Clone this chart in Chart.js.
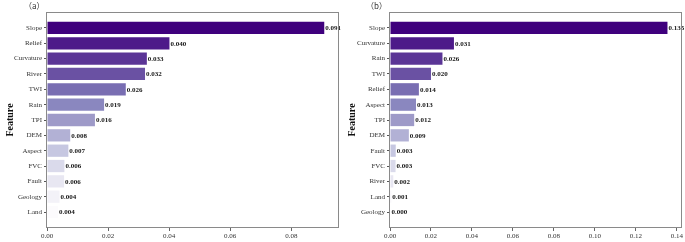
<!DOCTYPE html>
<html>
<head>
<meta charset="utf-8">
<script src="https://cdn.jsdelivr.net/npm/chart.js@4.4.1/dist/chart.umd.min.js"></script>
<style>
  html, body { margin: 0; padding: 0; background: #fff; }
  #wrap { position: relative; width: 685px; height: 242px; overflow: hidden; }
  .panel { position: absolute; top: 0; height: 242px; }
  .tag { position: absolute; top: 0; font: 8px "Noto Sans CJK SC", serif; color: #333; line-height: 12px; }
</style>
</head>
<body>
<div id="wrap">
  <div class="panel" style="left:0;width:342px;"><canvas id="chart-a" width="342" height="242"></canvas></div>
  <div class="panel" style="left:342px;width:343px;"><canvas id="chart-b" width="343" height="242"></canvas></div>
  <div class="tag" style="left:24px;">（a）</div>
  <div class="tag" style="left:366px;">（b）</div>
</div>
<script>
// ---- data ----
var featuresA = ['Slope', 'Relief', 'Curvature', 'River', 'TWI', 'Rain', 'TPI', 'DEM', 'Aspect', 'FVC', 'Fault', 'Geology', 'Land'];
var importanceA = [0.0908, 0.0401, 0.0327, 0.0321, 0.0258, 0.0187, 0.0157, 0.0076, 0.0070, 0.0057, 0.0056, 0.0041, 0.0036];
var xTicksA = [0, 0.02, 0.04, 0.06, 0.08];

var featuresB = ['Slope', 'Curvature', 'Rain', 'TWI', 'Relief', 'Aspect', 'TPI', 'DEM', 'Fault', 'FVC', 'River', 'Land', 'Geology'];
var importanceB = [0.1354, 0.0312, 0.0256, 0.0200, 0.0141, 0.0127, 0.0118, 0.0092, 0.0028, 0.0027, 0.0016, 0.0006, 0.0002];
var xTicksB = [0, 0.02, 0.04, 0.06, 0.08, 0.10, 0.12, 0.14];

// Purples, darkest first (one per rank)
var palette = ['#3f007d', '#4d1a89', '#5b3596', '#6a51a3', '#796eb2', '#8a87bf', '#9e9ac8',
               '#b2b1d5', '#c6c7e1', '#dadaeb', '#e8e7f2', '#f3f2f8', '#fcfbfd'];

var SERIF = '"Liberation Serif", "Times New Roman", serif';

Chart.defaults.animation = false;

(function () {
  'use strict';

  // bold value text at the end of each bar
  var valueLabels = {
    id: 'valueLabels',
    afterDatasetsDraw: function (chart) {
      var ctx = chart.ctx;
      var meta = chart.getDatasetMeta(0);
      var pts = chart.data.datasets[0].data;
      ctx.save();
      ctx.font = 'bold 7px ' + SERIF;
      ctx.fillStyle = '#151515';
      ctx.textAlign = 'left';
      ctx.textBaseline = 'middle';
      meta.data.forEach(function (bar, i) {
        ctx.fillText(pts[i].x.toFixed(3), bar.x + 1, bar.y + 0.5);
      });
      ctx.restore();
    }
  };

  // box round the plot area
  var frame = {
    id: 'frame',
    afterDraw: function (chart) {
      var a = chart.chartArea;
      var ctx = chart.ctx;
      ctx.save();
      ctx.strokeStyle = '#8a8a8a';
      ctx.lineWidth = 1;
      ctx.strokeRect(Math.round(a.left) - 0.5, Math.round(a.top) + 0.5,
                     Math.round(a.right - a.left) + 1, Math.round(a.bottom - a.top) - 1);
      ctx.restore();
    }
  };

  function build(canvasId, features, values, xTicks, xMax, yAxisWidth) {
    var points = values.map(function (v, i) { return { x: v, y: i }; });

    return new Chart(document.getElementById(canvasId), {
      type: 'bar',
      data: {
        datasets: [{
          data: points,
          backgroundColor: palette.slice(0, values.length),
          borderWidth: 0,
          barPercentage: 0.8,
          categoryPercentage: 1
        }]
      },
      options: {
        indexAxis: 'y',
        responsive: false,
        layout: { padding: { top: 12, right: 4, left: 0, bottom: 0 } },
        plugins: { legend: { display: false }, tooltip: { enabled: false } },
        scales: {
          x: {
            type: 'linear',
            min: 0,
            max: xMax,
            border: { display: false },
            grid: { drawOnChartArea: false, tickLength: 3, color: '#666' },
            afterBuildTicks: function (scale) {
              scale.ticks = xTicks.map(function (v) { return { value: v }; });
            },
            afterFit: function (scale) {
              scale.height = 14;
              scale.paddingLeft = 0;
              scale.paddingRight = 0;
            },
            ticks: {
              maxRotation: 0,
              autoSkip: false,
              padding: 1,
              color: '#333',
              font: { family: SERIF, size: 7 },
              callback: function (v) { return Number(v).toFixed(2); }
            }
          },
          y: {
            type: 'linear',
            reverse: true,
            offset: false,
            min: -1.04,
            max: features.length - 1 + 1.04,
            border: { display: false },
            grid: { drawOnChartArea: false, offset: false, tickLength: 3, color: '#555' },
            afterBuildTicks: function (scale) {
              scale.ticks = features.map(function (f, i) { return { value: i }; });
            },
            afterFit: function (scale) { scale.width = yAxisWidth; },
            ticks: {
              autoSkip: false,
              padding: 2,
              color: '#333',
              font: { family: SERIF, size: 7 },
              callback: function (v) { return features[v]; }
            },
            title: {
              display: true,
              text: 'Feature',
              color: '#111',
              padding: { top: 4, bottom: 0 },
              font: { family: SERIF, size: 10, weight: 'bold' }
            }
          }
        }
      },
      plugins: [valueLabels, frame]
    });
  }

  build('chart-a', featuresA, importanceA, xTicksA, 0.0953, 47);
  build('chart-b', featuresB, importanceB, xTicksB, 0.142, 48);
}());
</script>
</body>
</html>
